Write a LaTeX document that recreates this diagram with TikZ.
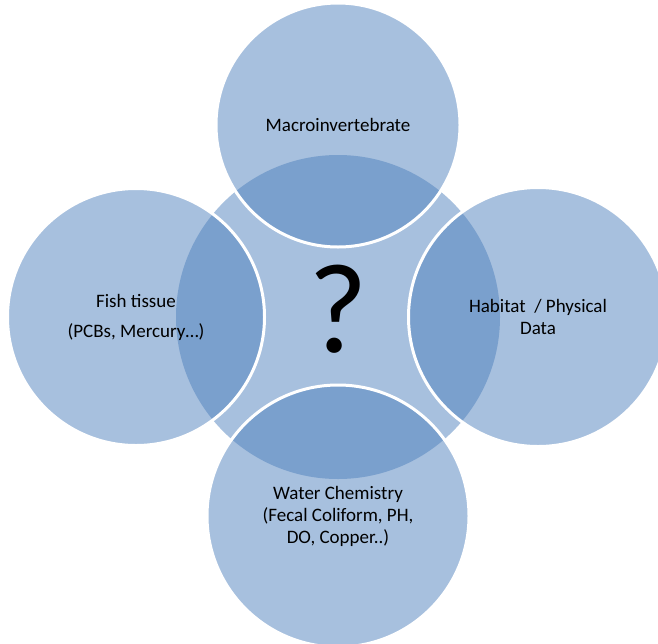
\documentclass[tikz,border=0pt]{standalone}
\usepackage{fontspec}
\setmainfont{Carlito}
\definecolor{venn}{HTML}{4F81BD}
\begin{document}
\begin{tikzpicture}[x=1pt,y=-1pt,
        hub/.style={circle,fill=venn!50,inner sep=0pt},
        ring/.style={circle,fill=venn,fill opacity=0.5,text opacity=1,draw=white,line width=3pt,
            inner sep=0pt,align=center,font=\fontsize{19}{22}\selectfont}]
        \useasboundingbox (0,0) rectangle (658,643);
        \node[hub,minimum size=324pt] (core) at (338,317) {};
        \node[anchor=base,font=\fontsize{128}{128}\selectfont] (ask) at (338,352) {?};
        \node[ring,minimum size=244pt] (macro) at (338,125) {Macroinvertebrate};
        \node[ring,minimum size=259pt] (habitat) at (538,317) {Habitat~ / Physical\\Data};
        \node[ring,minimum size=262pt] (water) at (338,516) {Water Chemistry\\(Fecal Coliform, PH,\\DO, Copper..)};
        \node[ring,minimum size=257pt] (fish) at (136,317) {Fish tissue\\[8pt](PCBs, Mercury…)};
    \end{tikzpicture}
\end{document}
